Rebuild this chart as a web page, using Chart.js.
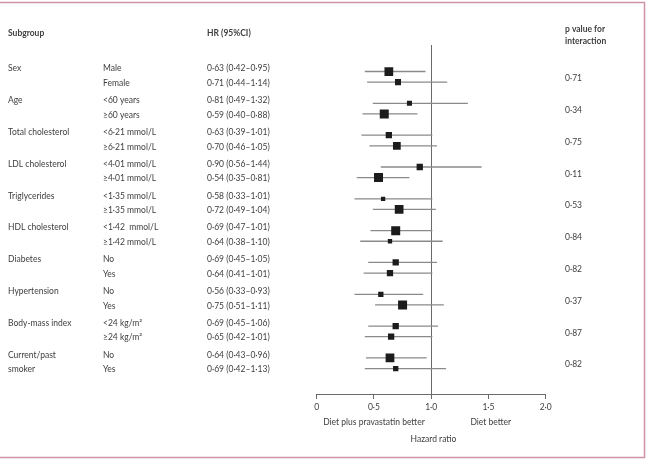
<!DOCTYPE html>
<html>
<head>
<meta charset="utf-8">
<script src="https://cdn.jsdelivr.net/npm/chart.js@4.4.1/dist/chart.umd.min.js"></script>
<style>
  html, body { margin: 0; padding: 0; background: #ffffff; }
  canvas { display: block; }
</style>
</head>
<body>
<canvas id="c" width="649" height="459"></canvas>
<script>
// ---- data ----
const groupLabels = ["Sex", "Age", "Total cholesterol", "LDL cholesterol", "Triglycerides",
  "HDL cholesterol", "Diabetes", "Hypertension", "Body-mass index", ["Current/past", "smoker"]];
const subgroups = ["Male", "Female", "<60 years", "≥60 years", "<6·21 mmol/L", "≥6·21 mmol/L",
  "<4·01 mmol/L", "≥4·01 mmol/L", "<1·35 mmol/L", "≥1·35 mmol/L", "<1·42  mmol/L", "≥1·42 mmol/L",
  "No", "Yes", "No", "Yes", "<24 kg/m²", "≥24 kg/m²", "No", "Yes"];
const hr = [0.63, 0.71, 0.81, 0.59, 0.63, 0.70, 0.90, 0.54, 0.58, 0.72, 0.69, 0.64, 0.69, 0.64, 0.56, 0.75, 0.69, 0.65, 0.64, 0.69];
const ciLow = [0.42, 0.44, 0.49, 0.40, 0.39, 0.46, 0.56, 0.35, 0.33, 0.49, 0.47, 0.38, 0.45, 0.41, 0.33, 0.51, 0.45, 0.42, 0.43, 0.42];
const ciHigh = [0.95, 1.14, 1.32, 0.88, 1.01, 1.05, 1.44, 0.81, 1.01, 1.04, 1.01, 1.10, 1.05, 1.01, 0.93, 1.11, 1.06, 1.01, 0.96, 1.13];
const weights = [0.97, 0.67, 0.56, 1.0, 0.7, 0.86, 0.7, 1.0, 0.48, 0.97, 1.0, 0.48, 0.7, 0.7, 0.59, 1.0, 0.7, 0.7, 0.97, 0.59];
const pInteraction = [0.71, 0.34, 0.75, 0.11, 0.53, 0.84, 0.82, 0.37, 0.87, 0.82];
const xTickLabels = ["0", "0·5", "1·0", "1·5", "2·0"];

// ---- helpers ----
const fmt = v => v.toFixed(2).replace(".", "·");
const rowPos = hr.map((_, i) => Math.floor(i / 2) * 3 + (i % 2));
const FONT = "Lato, 'Open Sans', sans-serif";
const TEXT = "#404040";
const FS = 8.5;

const ciDatasets = hr.map((_, i) => ({
  type: "line",
  data: [{ x: ciLow[i], y: rowPos[i] }, { x: ciHigh[i], y: rowPos[i] }],
  borderColor: "#8a8a8a",
  borderWidth: 1.3,
  pointRadius: 0,
  fill: false,
  order: 2
}));

const pointDataset = {
  type: "scatter",
  data: hr.map((v, i) => ({ x: v, y: rowPos[i] })),
  pointStyle: "rect",
  pointRadius: weights.map(w => w * 9 / Math.SQRT2),
  backgroundColor: "#1c1c1c",
  borderWidth: 0,
  order: 0
};

const decorPlugin = {
  id: "decor",
  beforeDatasetsDraw(chart) {
    const { ctx, chartArea, scales } = chart;
    const x1 = scales.x.getPixelForValue(1);
    ctx.save();
    ctx.strokeStyle = "#6a6a6a";
    ctx.lineWidth = 1;
    ctx.beginPath();
    ctx.moveTo(Math.round(x1) + 0.5, chartArea.top);
    ctx.lineTo(Math.round(x1) + 0.5, chartArea.bottom);
    ctx.stroke();
    ctx.restore();
  },
  afterDraw(chart) {
    const { ctx, scales } = chart;
    const y = scales.y, x = scales.x;
    ctx.save();
    ctx.textBaseline = "middle";
    ctx.fillStyle = TEXT;
    // headers
    ctx.font = "bold " + FS + "px " + FONT;
    ctx.textAlign = "left";
    ctx.fillText("Subgroup", 8, 33);
    ctx.fillText("HR (95%CI)", 207, 33);
    ctx.fillText("p value for", 565, 29);
    ctx.fillText("interaction", 565, 41);
    // rows
    ctx.font = FS + "px " + FONT;
    hr.forEach((v, i) => {
      const py = y.getPixelForValue(rowPos[i]) + (i % 2 === 0 ? -3 : 1);
      ctx.fillText(subgroups[i], 103, py);
      ctx.fillText(`${fmt(v)} (${fmt(ciLow[i])}–${fmt(ciHigh[i])})`, 207, py);
    });
    groupLabels.forEach((g, k) => {
      const lines = Array.isArray(g) ? g : [g];
      lines.forEach((t, j) => {
        const py = y.getPixelForValue(k * 3 + j) + (j === 0 ? -3 : 1);
        ctx.fillText(t, 8, py);
      });
      const pm = y.getPixelForValue(k * 3 + 0.5) + 1.5;
      ctx.fillText(fmt(pInteraction[k]), 565, pm);
    });
    // axis captions
    ctx.textAlign = "center";
    ctx.fillText("Diet plus pravastatin better", x.getPixelForValue(0.5), 422);
    ctx.fillText("Diet better", x.getPixelForValue(1.52), 422);
    ctx.fillText("Hazard ratio", x.getPixelForValue(1.02), 439);
    // frame
    ctx.strokeStyle = "#cf93aa";
    ctx.lineWidth = 1.5;
    ctx.beginPath();
    ctx.moveTo(0, 2.5);
    ctx.lineTo(644.5, 2.5);
    ctx.lineTo(644.5, 457.5);
    ctx.lineTo(0, 457.5);
    ctx.stroke();
    ctx.restore();
  }
};

new Chart(document.getElementById("c"), {
  type: "scatter",
  data: { datasets: [...ciDatasets, pointDataset] },
  options: {
    responsive: false,
    animation: false,
    events: [],
    layout: { padding: { left: 316.7, right: 103.3, top: 45, bottom: 45 } },
    plugins: { legend: { display: false }, tooltip: { enabled: false } },
    scales: {
      x: {
        type: "linear",
        min: 0,
        max: 2,
        afterFit: s => { s.height = 20; },
        ticks: {
          stepSize: 0.5,
          padding: 3,
          color: TEXT,
          font: { family: FONT, size: FS },
          maxRotation: 0,
          callback: (v, i) => xTickLabels[i]
        },
        grid: { drawOnChartArea: false, drawTicks: true, tickLength: 5, color: "#6a6a6a", lineWidth: 1 },
        border: { display: true, color: "#6a6a6a", width: 1 }
      },
      y: {
        type: "linear",
        reverse: true,
        min: -2.5,
        max: 30.4,
        display: false
      }
    }
  },
  plugins: [decorPlugin]
});
</script>
</body>
</html>
